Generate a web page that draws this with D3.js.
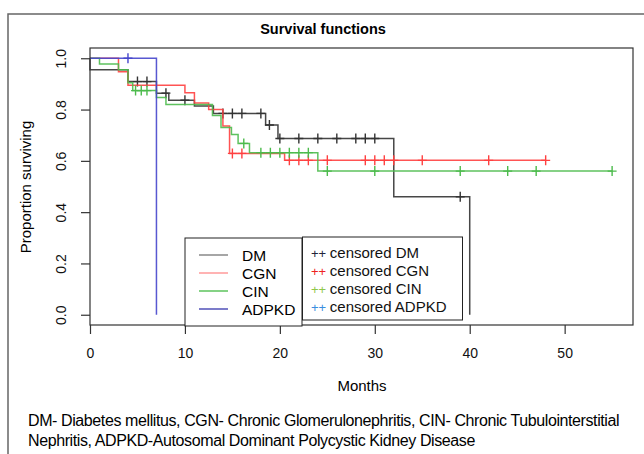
<!DOCTYPE html>
<html>
<head>
<meta charset="utf-8">
<script src="https://cdn.jsdelivr.net/npm/d3@7"></script>
<style>
  body { margin: 0; background: #fff; }
  svg { display: block; font-family: "Liberation Sans", Arial, sans-serif; }
</style>
</head>
<body>
<div id="chart"></div>
<script>
// step data (months, proportion surviving)
var dmTimes = [0, 4, 7, 8.3, 11, 13, 18.5, 19.8, 32, 40];
var dmSurv = [0.955, 0.909, 0.864, 0.836, 0.814, 0.785, 0.74, 0.687, 0.46, 0];
var dmCensor = [5, 6, 8, 10, 14, 15, 16, 18, 18.9, 20, 22, 24, 26, 28, 29, 30, 39];

var cgnTimes = [3, 4, 10, 11, 12.5, 14, 14.7, 20.5];
var cgnSurv = [0.947, 0.895, 0.866, 0.826, 0.8, 0.736, 0.629, 0.602];
var cgnCensor = [15, 16, 21, 22, 23, 25, 29, 30, 31, 32, 35, 42, 48];

var cinTimes = [1, 3, 4, 4.5, 7, 8, 12.9, 13.8, 14.9, 15.6, 16.8, 24];
var cinSurv = [0.978, 0.955, 0.905, 0.874, 0.847, 0.82, 0.777, 0.73, 0.703, 0.668, 0.632, 0.56];
var cinCensor = [4.8, 5.4, 6, 16.2, 18, 19, 20, 21, 22, 23, 25, 30, 39, 44, 47, 55];

var adpkdTimes = [7];
var adpkdSurv = [0];
var adpkdCensor = [4];

var groups = ["DM", "CGN", "CIN", "ADPKD"];
var xTicks = [0, 10, 20, 30, 40, 50];
var yTicks = [0, 0.2, 0.4, 0.6, 0.8, 1.0];
var captionLines = [
  "DM- Diabetes mellitus, CGN- Chronic Glomerulonephritis, CIN- Chronic Tubulointerstitial",
  "Nephritis, ADPKD-Autosomal Dominant Polycystic Kidney Disease"
];

var curveColors = ["#333333", "#ff4040", "#4cbb4c", "#4646cc"];
var keyColors = ["#888888", "#ff9a9a", "#5cc35c", "#5050b8"];
var plusColors = ["#23233a", "#ee2222", "#8fc74a", "#3a8ee0"];

var series = [
  { times: dmTimes, surv: dmSurv, censor: dmCensor },
  { times: cgnTimes, surv: cgnSurv, censor: cgnCensor },
  { times: cinTimes, surv: cinSurv, censor: cinCensor },
  { times: adpkdTimes, surv: adpkdSurv, censor: adpkdCensor }
];

var width = 644, height = 454;
var box = { left: 90, top: 48, right: 633, bottom: 325 };

var svg = d3.select("#chart").append("svg")
    .attr("width", width)
    .attr("height", height);

// outer frame of the figure
svg.append("rect")
    .attr("x", 8).attr("y", 14)
    .attr("width", 700).attr("height", 500)
    .attr("fill", "none")
    .attr("stroke", "#666")
    .attr("stroke-width", 1.5);

var x = d3.scaleLinear().domain([0, 55 * 1.04]).range([box.left, box.right]);
var y = d3.scaleLinear().domain([-0.04, 1.04]).range([box.bottom, box.top]);

// survival value at time t (right-continuous step)
var survAt = function(s, t) {
    var v = 1;
    for (var i = 0; i < s.times.length; i++) {
        if (s.times[i] <= t) v = s.surv[i];
    }
    return v;
};

var stepPath = function(s) {
    var last = d3.max(s.times.concat(s.censor));
    var pts = [[0, 1]];
    var cur = 1;
    s.times.forEach(function(t, i) {
        pts.push([t, cur]);
        cur = s.surv[i];
        pts.push([t, cur]);
    });
    pts.push([last, cur]);
    return d3.line().x(function(d){return x(d[0])}).y(function(d){return y(d[1])})(pts);
};

var curves = svg.append("g");
series.forEach(function(s, i) {
    curves.append("path")
        .attr("d", stepPath(s))
        .attr("fill", "none")
        .attr("stroke", curveColors[i])
        .attr("stroke-width", 1.5)
        .attr("stroke-opacity", 0.9);

    // censor marks drawn as small crosses
    curves.selectAll(".c" + i)
        .data(s.censor)
        .enter().append("path")
        .attr("class", "c" + i)
        .attr("d", function(t) {
            var cx = x(t), cy = y(survAt(s, t));
            return "M" + (cx - 4.5) + "," + cy + "H" + (cx + 4.5) +
                   "M" + cx + "," + (cy - 5) + "V" + (cy + 5);
        })
        .attr("stroke", curveColors[i])
        .attr("stroke-width", 1.4);
});

// plot box
svg.append("rect")
    .attr("x", box.left).attr("y", box.top)
    .attr("width", box.right - box.left).attr("height", box.bottom - box.top)
    .attr("fill", "none")
    .attr("stroke", "#333")
    .attr("stroke-width", 1.2);

// axes
var xAxis = svg.append("g")
    .attr("transform", "translate(0," + box.bottom + ")")
    .call(d3.axisBottom(x).tickValues(xTicks).tickSize(9).tickPadding(14));
xAxis.select(".domain").remove();
xAxis.selectAll("text").attr("font-size", 14).attr("fill", "#111");
xAxis.selectAll("line").attr("stroke", "#333").attr("stroke-width", 1.2);

var yAxis = svg.append("g")
    .attr("transform", "translate(" + box.left + ",0)")
    .call(d3.axisLeft(y).tickValues(yTicks).tickSize(9).tickFormat(d3.format(".1f")));
yAxis.select(".domain").remove();
yAxis.selectAll("line").attr("stroke", "#333").attr("stroke-width", 1.2);
yAxis.selectAll("text")
    .attr("font-size", 14)
    .attr("fill", "#111")
    .attr("transform", "rotate(-90)")
    .attr("text-anchor", "middle")
    .attr("x", 0).attr("y", -24).attr("dy", null);

// titles
svg.append("text")
    .attr("x", 323).attr("y", 34)
    .attr("text-anchor", "middle")
    .attr("font-size", 14.5)
    .attr("font-weight", "bold")
    .text("Survival functions");

svg.append("text")
    .attr("x", 362).attr("y", 391)
    .attr("text-anchor", "middle")
    .attr("font-size", 15)
    .text("Months");

svg.append("text")
    .attr("transform", "translate(31,187) rotate(-90)")
    .attr("text-anchor", "middle")
    .attr("font-size", 15)
    .text("Proportion surviving");

// legends
var leg1 = svg.append("g");
leg1.append("rect")
    .attr("x", 185).attr("y", 238).attr("width", 117).attr("height", 88)
    .attr("fill", "#fff").attr("stroke", "#222").attr("stroke-width", 1);
groups.forEach(function(g, i) {
    var ly = 255 + i * 18;
    leg1.append("line")
        .attr("x1", 199).attr("x2", 228).attr("y1", ly).attr("y2", ly)
        .attr("stroke", keyColors[i]).attr("stroke-width", 1.5);
    leg1.append("text")
        .attr("x", 242).attr("y", ly + 5.5)
        .attr("font-size", 15.5)
        .text(g);
});

var leg2 = svg.append("g");
leg2.append("rect")
    .attr("x", 302.5).attr("y", 237).attr("width", 160).attr("height", 83)
    .attr("fill", "#fff").attr("stroke", "#222").attr("stroke-width", 1);
groups.forEach(function(g, i) {
    var ly = 252 + i * 18;
    var t = leg2.append("text")
        .attr("x", 311).attr("y", ly + 5.5)
        .attr("font-size", 15);
    t.append("tspan").attr("fill", plusColors[i]).attr("font-size", 13).text("++ ");
    t.append("tspan").attr("fill", "#111").text("censored " + g);
});

// caption below the figure, sized so the first line fits inside the page
var caps = svg.selectAll(".caption")
    .data(captionLines)
    .enter().append("text")
    .attr("class", "caption")
    .attr("x", 28)
    .attr("y", function(d, i){return 426 + i * 20})
    .attr("font-size", 16)
    .attr("letter-spacing", -0.4)
    .text(function(d){return d});

var natural = caps.nodes()[0].getComputedTextLength();
var capSize = Math.min(16, 16 * 608 / natural);
caps.attr("font-size", capSize);
</script>
</body>
</html>
